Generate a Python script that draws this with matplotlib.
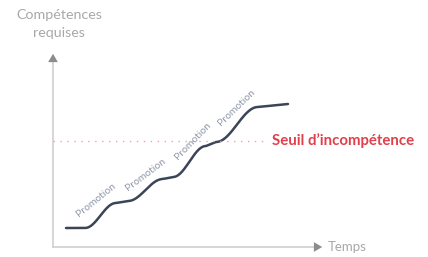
import numpy as np
import matplotlib
matplotlib.use("Agg")
import matplotlib.pyplot as plt

# Plateaus of the competence curve (time start, time end, level start, level end)
plateau_t0 = [13, 63, 110, 153, 205]
plateau_t1 = [32, 75, 120, 163, 235]
plateau_y0 = [19, 44, 68, 101, 140]
plateau_y1 = [19, 46, 70, 105, 143]
threshold = 106
threshold_label = "Seuil d\u2019incompétence"
promo_labels = ["Promotion"] * 4
promo_x = [43, 93, 140, 183]
promo_y = [47, 72, 106, 139]
promo_rot = [39, 37, 46, 44]
y_label_lines = ["Compétences", "requises"]
x_label = "Temps"

plt.rcParams['font.family'] = ['Lato', 'DejaVu Sans']
fig = plt.figure(figsize=(4.28, 2.57), dpi=100)
ax = fig.add_axes([0, 0, 1, 1])
ax.set_xlim(-53, 375)
ax.set_ylim(-10, 247)
ax.axis('off')

# build the smooth staircase
xs, ys = [], []
for i in range(len(plateau_t0)):
    t = np.linspace(plateau_t0[i], plateau_t1[i], 20)
    xs.append(t)
    ys.append(np.linspace(plateau_y0[i], plateau_y1[i], 20))
    if i + 1 < len(plateau_t0):
        u = np.linspace(0, 1, 60)[1:-1]
        s = (1 - np.cos(np.pi * u)) / 2
        xs.append(plateau_t1[i] + (plateau_t0[i + 1] - plateau_t1[i]) * u)
        ys.append(plateau_y1[i] + (plateau_y0[i + 1] - plateau_y1[i]) * s)
xs = np.concatenate(xs)
ys = np.concatenate(ys)
ax.plot(xs, ys, color='#3b4557', lw=1.8, solid_capstyle='round')

# axes
axis_col = '#cfcfcf'
ax.plot([0, 0], [0, 188], color=axis_col, lw=1.2)
ax.plot([0, 265], [0, 0], color=axis_col, lw=1.2)
ax.annotate('', xy=(0, 196), xytext=(0, 185),
            arrowprops=dict(arrowstyle='-|>,head_width=0.35,head_length=0.6',
                            color='#8c8c8c', lw=0))
ax.annotate('', xy=(272, 0), xytext=(262, 0),
            arrowprops=dict(arrowstyle='-|>,head_width=0.35,head_length=0.6',
                            color='#8c8c8c', lw=0))
ax.text(6, 232, y_label_lines[0], ha='center', va='center', fontsize=10.3,
        color='#a8a8a8')
ax.text(6, 214, y_label_lines[1], ha='center', va='center', fontsize=10.3,
        color='#a8a8a8')
ax.text(275, 0, x_label, ha='left', va='center', fontsize=9.5, color='#a8a8a8')

# threshold
ax.plot([0, 212], [threshold, threshold], color='#f0a0a8', lw=1.0,
        linestyle=(0, (1, 4)))
ax.text(219, threshold, threshold_label, ha='left', va='center', fontsize=10.8,
        color='#e0404c', fontweight='bold')

for lab, x, y, r in zip(promo_labels, promo_x, promo_y, promo_rot):
    ax.text(x, y, lab, ha='center', va='center', rotation=r, fontsize=7.5,
            color='#8e97aa', rotation_mode='anchor')

fig.savefig('out.png', dpi=100)
